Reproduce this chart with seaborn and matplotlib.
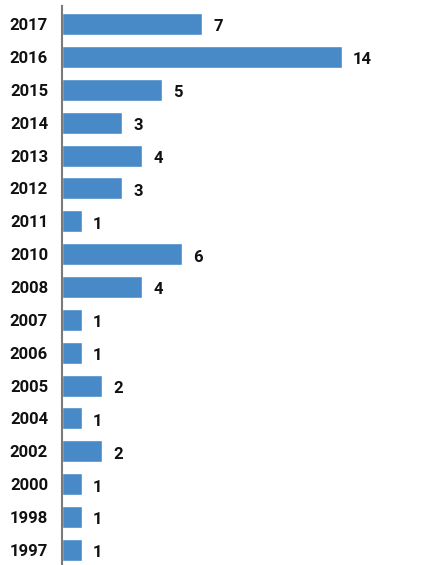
import matplotlib
matplotlib.use("Agg")
import matplotlib.pyplot as plt
import seaborn as sns
import pandas as pd

years = ["2017", "2016", "2015", "2014", "2013", "2012", "2011", "2010", "2008",
         "2007", "2006", "2005", "2004", "2002", "2000", "1998", "1997"]
counts = [7, 14, 5, 3, 4, 3, 1, 6, 4, 1, 1, 2, 1, 2, 1, 1, 1]

df = pd.DataFrame({"year": years, "count": counts})

sns.set_style("white")
plt.rcParams['font.family'] = ['Roboto', 'DejaVu Sans']

fig = plt.figure(figsize=(4.3, 5.65), dpi=100)
ax = fig.add_axes([62/430, 0, 368/430, 1 - 6/565])

sns.barplot(data=df, y="year", x="count", orient="h", color="#4889C8",
            saturation=1, width=0.67, ax=ax, order=years)

ax.set_xlim(0, 18.4)
ax.set_ylim(16.46, -0.55)
for s in ["top", "right", "bottom"]:
    ax.spines[s].set_visible(False)
ax.spines["left"].set_color("#7a7a7a")
ax.spines["left"].set_linewidth(1.5)
ax.set_xticks([])
ax.set_xlabel("")
ax.set_ylabel("")
ax.tick_params(axis="y", length=0, pad=10)
for lab in ax.get_yticklabels():
    lab.set_fontsize(12)
    lab.set_fontweight("bold")
    lab.set_color("#111111")
    lab.set_va("center_baseline")

for i, v in enumerate(counts):
    ax.annotate(str(v), xy=(v, i), xytext=(8, -1), textcoords="offset points",
                va="center_baseline", ha="left", fontsize=12, fontweight="bold", color="#111111")

fig.savefig("out.png", dpi=100)
